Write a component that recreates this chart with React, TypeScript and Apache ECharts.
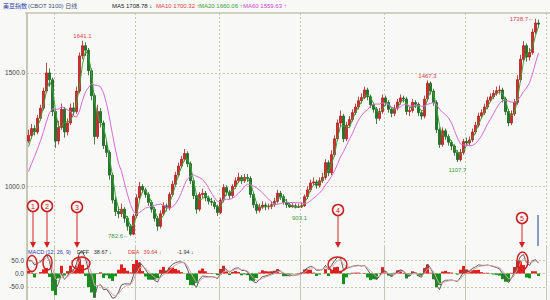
import React, { useEffect, useRef } from 'react';
import * as echarts from 'echarts';

const titleName = '美豆指数';
const titleRest = '(CBOT 3100) 日线';
const maLabels = ['MA5', 'MA10', 'MA20', 'MA60'];
const maValues = [1708.78, 1700.32, 1660.06, 1559.63];
const maArrows = ['↓', '↑', '↑', '↑'];
const macdParams = [12, 26, 9];
const macdNames = ['DIFF', 'DEA', ''];
const macdValues = [38.67, 39.64, -1.94];
const macdArrows = ['↓', '↓', '↓'];
const priceTicks = [1000, 1500];
const macdTicks = [-50, 0, 50];
const annotationNumbers = ['1', '2', '3', '4', '5'];

// closes before the visible window (estimated from the lagging averages), used only to warm up indicators
const warmupCloses = [900, 940, 960, 990, 1020, 1060, 1090, 1130, 1170];
const firstOpen = 1200;
const closes = [
  1225, 1255, 1240, 1300, 1345, 1420, 1500, 1470, 1330, 1200,
  1260, 1340, 1240, 1280, 1346, 1330, 1420, 1575, 1620, 1600,
  1510, 1400, 1220, 1330, 1280, 1180, 1150, 1050, 940, 890,
  880, 900, 860, 825, 790, 870, 950, 1000, 985, 965,
  930, 900, 860, 825, 880, 915, 905, 965, 1010, 1050,
  1090, 1120, 1145, 1100, 1025, 960, 900, 965, 970, 950,
  935, 930, 912, 885, 940, 995, 975, 960, 1000, 1025,
  1040, 1025, 1040, 1035, 965, 920, 895, 910, 918, 910,
  912, 920, 935, 970, 955, 930, 920, 910, 915, 908,
  910, 915, 955, 985, 1015, 1020, 1005, 1025, 1040, 1105,
  1060, 1140, 1210, 1280, 1310, 1210, 1270, 1295, 1325, 1350,
  1378, 1392, 1425, 1395, 1360, 1340, 1300, 1330, 1390, 1370,
  1340, 1322, 1345, 1372, 1390, 1385, 1330, 1335, 1370, 1362,
  1325, 1310, 1385, 1455, 1420, 1370, 1250, 1185, 1245, 1220,
  1195, 1178, 1150, 1118, 1150, 1198, 1192, 1205, 1240, 1270,
  1310, 1325, 1350, 1380, 1395, 1410, 1422, 1425, 1385, 1330,
  1280, 1320, 1370, 1470, 1560, 1620, 1570, 1590, 1680, 1720,
  1715,
];
const highs = [
  1250, 1275, 1270, 1315, 1360, 1435, 1545, 1520, 1480, 1340,
  1290, 1365, 1350, 1300, 1365, 1370, 1440, 1590, 1641.1, 1635,
  1610, 1520, 1410, 1360, 1345, 1290, 1200, 1160, 1060, 955,
  910, 925, 910, 870, 835, 880, 965, 1020, 1010, 995,
  975, 940, 910, 870, 895, 930, 925, 975, 1025, 1065,
  1105, 1135, 1165, 1155, 1110, 1035, 970, 975, 990, 980,
  960, 950, 940, 920, 950, 1010, 1005, 985, 1010, 1040,
  1060, 1050, 1055, 1055, 1045, 975, 930, 925, 935, 930,
  925, 935, 950, 985, 980, 965, 945, 930, 930, 925,
  925, 930, 965, 1000, 1030, 1040, 1030, 1040, 1060, 1120,
  1115, 1160, 1225, 1295, 1335, 1320, 1285, 1310, 1340, 1365,
  1395, 1410, 1440, 1435, 1405, 1370, 1350, 1345, 1405, 1400,
  1380, 1350, 1360, 1385, 1405, 1400, 1395, 1350, 1385, 1380,
  1370, 1335, 1400, 1467.3, 1462, 1430, 1380, 1260, 1260, 1255,
  1230, 1205, 1185, 1160, 1165, 1210, 1215, 1220, 1255, 1285,
  1325, 1340, 1365, 1395, 1410, 1425, 1440, 1445, 1435, 1395,
  1340, 1335, 1385, 1490, 1580, 1640, 1630, 1610, 1695, 1738.7,
  1735,
];
const lows = [
  1190, 1210, 1225, 1230, 1290, 1335, 1410, 1440, 1310, 1170,
  1185, 1250, 1215, 1225, 1270, 1310, 1320, 1410, 1560, 1575,
  1490, 1380, 1185, 1210, 1260, 1165, 1130, 1030, 925, 870,
  860, 865, 840, 805, 782.6, 785, 860, 940, 970, 950,
  915, 885, 845, 805, 815, 870, 890, 895, 955, 1000,
  1040, 1080, 1110, 1085, 1010, 945, 880, 890, 950, 935,
  920, 915, 900, 870, 878, 930, 960, 945, 950, 990,
  1015, 1010, 1015, 1020, 950, 905, 880, 885, 900, 895,
  898, 900, 910, 925, 940, 920, 905, 906, 907, 903.1,
  905, 905, 910, 945, 975, 1005, 990, 995, 1015, 1030,
  1045, 1050, 1130, 1200, 1265, 1195, 1200, 1260, 1285, 1315,
  1340, 1365, 1385, 1380, 1345, 1325, 1275, 1290, 1320, 1355,
  1325, 1305, 1310, 1335, 1360, 1370, 1315, 1310, 1325, 1345,
  1310, 1295, 1300, 1375, 1405, 1355, 1235, 1170, 1175, 1205,
  1180, 1160, 1135, 1107.7, 1110, 1140, 1180, 1180, 1195, 1230,
  1260, 1300, 1315, 1340, 1370, 1385, 1400, 1405, 1370, 1315,
  1265, 1270, 1310, 1360, 1460, 1550, 1550, 1555, 1580, 1670,
  1700,
];
const markIdx = [18, 34, 89, 133, 143, 169];
const markSide = ['high', 'low', 'low', 'high', 'low', 'high'];

const FONT = "'Liberation Sans', 'Noto Sans CJK SC', sans-serif";
const GRID = '#c6c7b0';
const RED = '#d42a2a';

export default function App() {
  const ref = useRef<HTMLDivElement>(null);
  useEffect(() => {
    const chart = echarts.init(ref.current!, null, { renderer: 'svg' });
    const N = closes.length;
    const W = warmupCloses.length;
    const all = warmupCloses.concat(closes);
    const cats = Array.from({ length: N + 2 }, (_, i) => String(i));
    const vLineIdx = [9, 36, 64, 91, 119, 146];
    const candles = closes.map((c, i) => [i === 0 ? firstOpen : closes[i - 1], c, lows[i], highs[i]]);
    const ma = (w: number) =>
      closes.map((_, j) => {
        const i = j + W;
        const s = Math.max(0, i - w + 1);
        let sum = 0;
        for (let k = s; k <= i; k++) sum += all[k];
        return +(sum / (i - s + 1)).toFixed(2);
      });
    const ema = (src: number[], n: number) => {
      const a = 2 / (n + 1);
      const out: number[] = [];
      src.forEach((v, i) => out.push(i === 0 ? v : a * v + (1 - a) * out[i - 1]));
      return out;
    };
    const fast = ema(all, 2);
    const slow = ema(all, 4.5);
    const diffAll = fast.map((f, i) => f - slow[i]);
    const deaAll = ema(diffAll, 3);
    const diff = diffAll.slice(W).map((v) => +v.toFixed(2));
    const dea = deaAll.slice(W).map((v) => +v.toFixed(2));
    const hist = diff.map((d, i) => +(2 * (d - dea[i])).toFixed(2));

    const markData = markIdx.map((idx, k) => {
      const isHigh = markSide[k] === 'high';
      const v = isHigh ? highs[idx] : lows[idx];
      const last = k === markIdx.length - 1;
      const leftSide = last || idx === 34;
      let position: any = isHigh ? 'top' : 'bottom';
      let distance = isHigh ? 1 : 4;
      let offset = [0, 0];
      if (leftSide) { position = 'left'; distance = 1; }
      if (idx === 89) { distance = 6; offset = [4, 0]; }
      return {
        coord: [idx, v],
        value: v,
        label: {
          show: true,
          position,
          distance,
          offset,
          formatter: leftSide ? v.toFixed(1) + '←' : v.toFixed(1),
          color: isHigh ? '#d8404a' : '#3a9a3a',
          fontSize: 6,
          fontFamily: FONT,
        },
      };
    });

    const dashed = { color: GRID, type: [2, 2], width: 1 };
    const cat = (gridIndex: number) => ({
      type: 'category', gridIndex, data: cats, boundaryGap: true,
      axisLine: { show: false }, axisTick: { show: false }, axisLabel: { show: false },
      splitLine: { show: true, interval: (i: number) => vLineIdx.includes(i), lineStyle: dashed },
    });

    const txt = (x: number, y: number, text: string, fill: string, extra: any = {}) => ({
      type: 'text', x, y, z: 50,
      style: { text, fill, fontSize: 6, fontFamily: FONT, verticalAlign: 'middle', ...extra },
    });

    const maColors = ['#222222', '#e03a3a', '#34a034', '#d040d0'];
    const maX = [112, 156, 199, 243];
    const annX = [33, 47, 77, 338, 522];
    const annY = [206, 206, 207, 210, 218];
    const graphics: any[] = [
      { type: 'line', z: 40, shape: { x1: 25, y1: 13, x2: 550, y2: 13 }, style: { stroke: '#c4c5ac', lineWidth: 1.5 } },
      txt(3, 6, titleName, '#2a3ea8'),
      txt(28, 6, titleRest, '#44507a'),
      ...maLabels.map((l, i) => txt(maX[i], 6, `${l} ${maValues[i].toFixed(2)} ${maArrows[i]}`, maColors[i])),
      txt(28, 252, `MACD (${macdParams.join(', ')})`, '#2a3ea8', { fontSize: 5.5 }),
      txt(77, 252, `${macdNames[0]}   ${macdValues[0].toFixed(2)} ${macdArrows[0]}`, '#333', { fontSize: 5.5 }),
      txt(128, 252, `${macdNames[1]}   ${macdValues[1].toFixed(2)} ${macdArrows[1]}`, '#e03a3a', { fontSize: 5.5 }),
      txt(177, 252, `${macdValues[2].toFixed(2)} ${macdArrows[2]}`, '#333', { fontSize: 5.5 }),
      { type: 'line', z: 40, shape: { x1: 538, y1: 215, x2: 538, y2: 246 }, style: { stroke: '#8c9cc0', lineWidth: 2 } },
    ];
    annX.forEach((x, i) => {
      const y = annY[i];
      graphics.push({ type: 'line', z: 41, shape: { x1: x, y1: y + 5, x2: x, y2: 243 }, style: { stroke: '#e06a6a', lineWidth: 1.5 } });
      graphics.push({ type: 'polygon', z: 42, shape: { points: [[x - 3, 242], [x + 3, 242], [x, 248]] }, style: { fill: '#d42020' } });
      graphics.push({ type: 'circle', z: 43, shape: { cx: x, cy: y, r: 5.5 }, style: { fill: '#f6f6f6', stroke: '#c82020', lineWidth: 1.5 } });
      graphics.push({
        type: 'text', z: 44, x, y,
        style: { text: annotationNumbers[i], fill: '#c82020', fontSize: 7, fontFamily: FONT, align: 'center', verticalAlign: 'middle' },
      });
    });
    const ell = [
      [32, 263.5, 5, 8], [47.5, 262.5, 4.5, 7.5], [81, 263.5, 9, 6.5], [337.5, 264.5, 9.5, 7.5], [522.5, 261, 5.5, 9],
    ];
    ell.forEach(([cx, cy, rx, ry]) =>
      graphics.push({ type: 'ellipse', z: 45, shape: { cx, cy, rx, ry }, style: { fill: 'none', stroke: '#d02020', lineWidth: 1.5 } })
    );

    chart.setOption({
      animation: false,
      backgroundColor: '#f8f8f7',
      grid: [
        { left: 27, right: 4, top: 13, bottom: 0 },
        { left: 27, right: 4, top: 247, height: 56 },
      ],
      xAxis: [cat(0), cat(1)],
      yAxis: [
        {
          type: 'value', gridIndex: 0, min: 500, max: 1764, interval: 500,
          axisLine: { show: true, lineStyle: { color: '#b6b89c', width: 1.5 } },
          axisTick: { show: false },
          axisLabel: {
            showMinLabel: false, showMaxLabel: false, margin: 2, fontSize: 6.5, color: '#444', fontFamily: FONT,
            formatter: (v: number) => (priceTicks.includes(v) ? v.toFixed(1) : ''),
          },
          splitLine: { show: true, showMinLine: false, showMaxLine: false, lineStyle: dashed },
        },
        {
          type: 'value', gridIndex: 1, min: -100, max: 100, interval: 50,
          axisLine: { show: false }, axisTick: { show: false },
          axisLabel: {
            showMinLabel: false, showMaxLabel: false, margin: 3, fontSize: 6.5, color: '#444', fontFamily: FONT,
            formatter: (v: number) => (macdTicks.includes(v) ? v.toFixed(1) : ''),
          },
          splitLine: { show: true, showMinLine: false, showMaxLine: false, lineStyle: dashed },
        },
      ],
      series: [
        {
          type: 'candlestick', xAxisIndex: 0, yAxisIndex: 0, data: candles, barWidth: 1.8,
          itemStyle: { color: RED, color0: '#1f7a24', borderColor: '#a81e1e', borderColor0: '#1c5e20', borderWidth: 0.8 },
          markPoint: { symbol: 'circle', symbolSize: 1, itemStyle: { color: 'rgba(0,0,0,0)' }, data: markData },
        },
        { type: 'line', xAxisIndex: 0, yAxisIndex: 0, data: ma(3), symbol: 'none', lineStyle: { color: '#3aa53a', width: 1 }, z: 3 },
        { type: 'line', xAxisIndex: 0, yAxisIndex: 0, data: ma(9), symbol: 'none', lineStyle: { color: '#d56ad5', width: 1 }, z: 3 },
        {
          type: 'bar', xAxisIndex: 1, yAxisIndex: 1, data: hist, barWidth: '100%', barCategoryGap: '0%',
          itemStyle: { color: (p: any) => (p.value >= 0 ? '#e0201c' : '#14911a') },
        },
        { type: 'line', xAxisIndex: 1, yAxisIndex: 1, data: diff, symbol: 'none', lineStyle: { color: '#5a5a5a', width: 1 } },
        { type: 'line', xAxisIndex: 1, yAxisIndex: 1, data: dea, symbol: 'none', lineStyle: { color: '#d9a5a5', width: 1 } },
      ],
      graphic: graphics,
    });
    return () => chart.dispose();
  }, []);
  return <div ref={ref} style={{ position: 'fixed', left: 0, top: 0, width: 550, height: 300 }} />;
}
